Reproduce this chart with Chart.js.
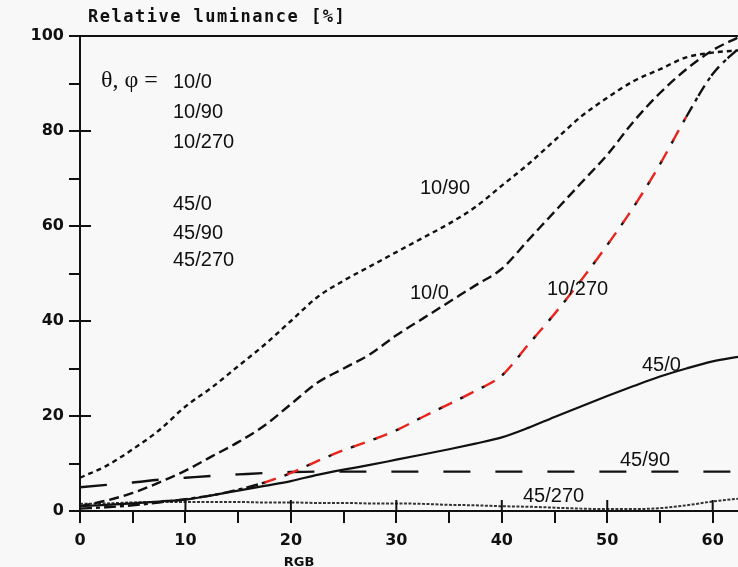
<!DOCTYPE html>
<html>
<head>
<meta charset="utf-8">
<script src="https://cdn.jsdelivr.net/npm/chart.js@4.4.1/dist/chart.umd.min.js"></script>
<style>
  body { margin: 0; background: #f8f8f8; overflow: hidden; }
  canvas { display: block; }
</style>
</head>
<body>
<canvas id="lum" width="738" height="567"></canvas>
<script>
"use strict";

// RGB level (x) sampled every 2.5
const rgb = [0, 2.5, 5, 7.5, 10, 12.5, 15, 17.5, 20, 22.5, 25, 27.5, 30, 32.5, 35, 37.5, 40, 42.5, 45, 47.5, 50, 52.5, 55, 57.5, 60, 62.5];

// relative luminance [%] per viewing angle theta/phi
const lum10_0   = [1, 2.2, 3.8, 6, 8.5, 11.5, 14.5, 18, 22.5, 27, 30, 33, 37, 40.5, 44, 47.5, 51, 57, 63, 69, 75, 82, 88, 93, 97, 99.8];
const lum10_90  = [7, 9.5, 13, 17, 22, 26, 30.5, 35, 40, 45, 48.5, 51.5, 54.5, 57.5, 60.5, 64, 68.5, 73, 78, 83, 87, 90.5, 93, 95.5, 96.5, 97];
const lum10_270 = [0.5, 0.8, 1.2, 1.8, 2.5, 3.3, 4.5, 6, 8, 10.5, 12.8, 14.8, 17, 19.8, 22.5, 25.3, 28.5, 35, 41.5, 48.5, 56, 64, 73, 83, 92, 97.5];
const lum45_0   = [1, 1.3, 1.6, 2, 2.4, 3.3, 4.3, 5.3, 6.3, 7.6, 8.7, 9.7, 10.8, 11.9, 13, 14.2, 15.5, 17.5, 19.8, 22, 24.2, 26.3, 28.3, 30, 31.5, 32.5];
const lum45_90  = [5, 5.5, 6, 6.6, 7, 7.4, 7.7, 8, 8.2, 8.3, 8.3, 8.3, 8.3, 8.3, 8.3, 8.3, 8.3, 8.3, 8.3, 8.3, 8.3, 8.3, 8.3, 8.3, 8.3, 8.3];
const lum45_270 = [1.5, 1.6, 1.8, 1.9, 1.9, 1.9, 1.9, 1.8, 1.8, 1.7, 1.7, 1.6, 1.6, 1.5, 1.3, 1.2, 1.0, 0.9, 0.7, 0.5, 0.4, 0.4, 0.6, 1.2, 2, 2.6];

const xTicks = [0, 10, 20, 30, 40, 50, 60];
const yTicks = [0, 20, 40, 60, 80, 100];

function pts(vals) {
  return rgb.map((x, i) => ({x: x, y: vals[i]}));
}

function line(vals, opts) {
  return Object.assign({
    data: pts(vals),
    borderColor: '#111',
    borderWidth: 2.4,
    pointRadius: 0,
    fill: false,
    cubicInterpolationMode: 'monotone'
  }, opts);
}

// free text drawn on the plot (pixel positions)
const notes = [
  {t: '10/0', x: 173, y: 82}, {t: '10/90', x: 173, y: 112}, {t: '10/270', x: 173, y: 142},
  {t: '45/0', x: 173, y: 204}, {t: '45/90', x: 173, y: 233}, {t: '45/270', x: 173, y: 260},
  {t: '10/90', x: 420, y: 188}, {t: '10/0', x: 410, y: 293}, {t: '10/270', x: 547, y: 289},
  {t: '45/0', x: 642, y: 365}, {t: '45/90', x: 620, y: 460}, {t: '45/270', x: 523, y: 496}
];

const decor = {
  id: 'decor',
  afterDraw(chart) {
    const ctx = chart.ctx, a = chart.chartArea;
    const xs = chart.scales.x, ys = chart.scales.y;
    ctx.save();
    ctx.strokeStyle = '#111';
    ctx.lineWidth = 2;
    ctx.beginPath();
    // top frame line at 100
    ctx.moveTo(a.left - 11, a.top);
    ctx.lineTo(a.right, a.top);
    // inner half of major ticks
    yTicks.forEach(v => {
      const p = ys.getPixelForValue(v);
      ctx.moveTo(a.left, p); ctx.lineTo(a.left + 11, p);
    });
    xTicks.forEach(v => {
      const p = xs.getPixelForValue(v);
      ctx.moveTo(p, a.bottom); ctx.lineTo(p, a.bottom - 11);
    });
    ctx.stroke();

    ctx.fillStyle = '#111';
    ctx.textBaseline = 'middle';
    ctx.font = 'bold 17px "DejaVu Sans Mono"';
    ctx.letterSpacing = '1.5px';
    ctx.fillText('Relative luminance [%]', 88, 18);
    ctx.letterSpacing = '0px';

    ctx.font = 'bold 13px "DejaVu Sans"';
    ctx.textAlign = 'center';
    ctx.fillText('RGB', 299, 563);

    ctx.textAlign = 'left';
    ctx.font = '24px "Liberation Serif"';
    ctx.fillText('\u03b8, \u03c6 =', 101, 81);
    ctx.font = '20px "Liberation Sans"';
    notes.forEach(n => ctx.fillText(n.t, n.x, n.y));
    ctx.restore();
  }
};

const tickFont = {family: 'DejaVu Sans', weight: 'bold', size: 16};

new Chart('lum', {
  type: 'line',
  data: {
    datasets: [
      line(lum10_0,   {borderDash: [10, 5]}),
      line(lum10_90,  {borderDash: [5, 4]}),
      // 10/270: red dashes with black dots between
      line(lum10_270, {borderDash: [12, 12],
        segment: {borderColor: c => (c.p0.parsed.x >= 17 && c.p0.parsed.x < 57.5) ? '#e8241c' : '#111'}}),
      line(lum10_270, {borderDash: [4, 20], borderDashOffset: 8}),
      line(lum45_0,   {borderWidth: 2.2}),
      line(lum45_90,  {borderDash: [27, 25]}),
      line(lum45_270, {borderDash: [3, 1.5], borderWidth: 2, borderColor: '#333'})
    ]
  },
  options: {
    responsive: false,
    animation: false,
    layout: {padding: {top: 36, right: 0, left: 0, bottom: 0}},
    plugins: {legend: {display: false}, tooltip: {enabled: false}},
    scales: {
      x: {
        type: 'linear', min: 0, max: 62.4,
        afterFit: s => { s.height = 56; },
        border: {display: true, color: '#111', width: 2},
        grid: {drawOnChartArea: false, drawTicks: true, tickLength: 12, color: '#111', lineWidth: 2},
        ticks: {stepSize: 5, includeBounds: false, color: '#111', font: tickFont, padding: 8,
          callback: v => (v % 10 === 0 ? v : '')}
      },
      y: {
        min: 0, max: 100,
        afterFit: s => { s.width = 80; },
        border: {display: true, color: '#111', width: 2},
        grid: {drawOnChartArea: false, drawTicks: true, tickLength: 11, color: '#111', lineWidth: 2},
        ticks: {stepSize: 10, color: '#111', font: tickFont, padding: 5,
          callback: v => (v % 20 === 0 ? v : '')}
      }
    }
  },
  plugins: [decor]
});
</script>
</body>
</html>
